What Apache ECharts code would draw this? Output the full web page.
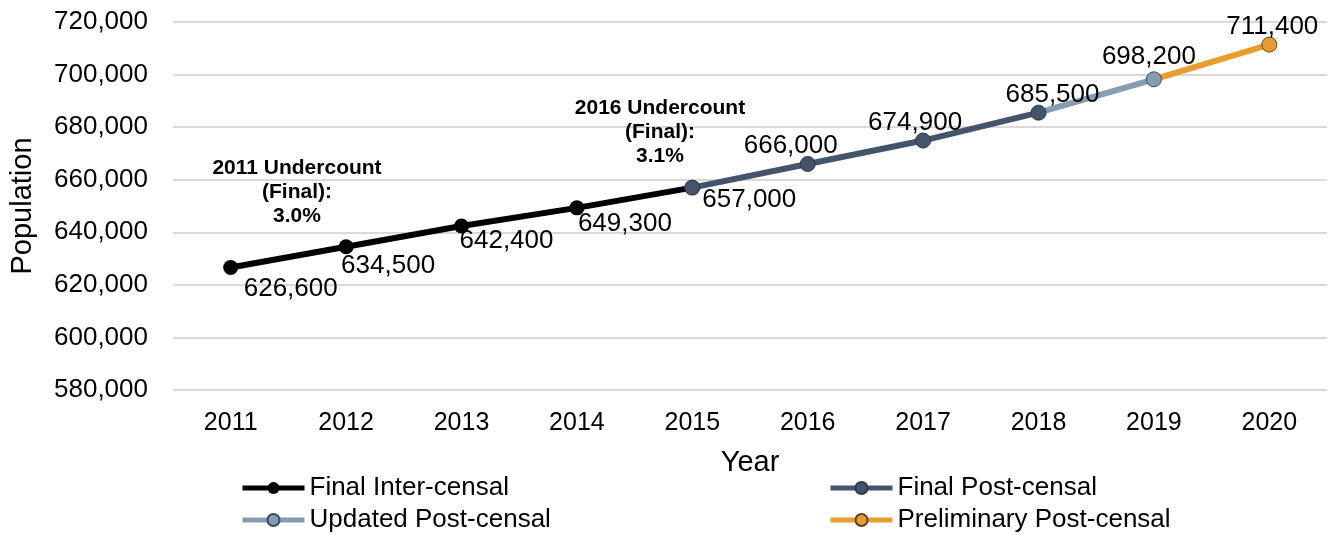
<!DOCTYPE html>
<html>
<head>
<meta charset="utf-8">
<script src="https://cdn.jsdelivr.net/npm/echarts@6/dist/echarts.min.js"></script>
<style>
  html, body { margin: 0; padding: 0; background: #fff; }
  #chart { width: 1334px; height: 535px; }
</style>
</head>
<body>
<div id="chart"></div>
<script>
const years = ['2011', '2012', '2013', '2014', '2015', '2016', '2017', '2018', '2019', '2020']
const finalInterCensal = [626600, 634500, 642400, 649300, 657000, null, null, null, null, null]
const finalPostCensal = [null, null, null, null, 657000, 666000, 674900, 685500, null, null]
const updatedPostCensal = [null, null, null, null, null, null, null, 685500, 698200, null]
const preliminaryPostCensal = [null, null, null, null, null, null, null, null, 698200, 711400]
// which series prints the value label for each year
const labelOwner = [0, 0, 0, 0, 1, 1, 1, 1, 2, 3]
const labelOffsets = [[60, 21], [42, 19], [45, 15], [48, 16], [57, 12], [-17, -18], [-8, -18], [14, -18], [-5, -22], [3, -18]]

const font = "'Liberation Sans', Arial, sans-serif"
const fmt = (v) => Number(v).toLocaleString('en-US')

const seriesDefs = [
  { name: 'Final Inter-censal', values: finalInterCensal, color: '#000000', border: '#000000', hideFirst: false },
  { name: 'Final Post-censal', values: finalPostCensal, color: '#44546a', border: '#2e3a48', hideFirst: false },
  { name: 'Updated Post-censal', values: updatedPostCensal, color: '#849db3', border: '#3f4a56', hideFirst: true },
  { name: 'Preliminary Post-censal', values: preliminaryPostCensal, color: '#e99d2f', border: '#5a4520', hideFirst: true }
]

const buildData = (values, idx, hideFirst) => {
  const first = values.findIndex((v) => v != null)
  return values.map((v, i) => {
    if (v == null) return '-'
    return {
      value: v,
      symbol: hideFirst && i === first ? 'none' : 'circle',
      label: {
        show: labelOwner[i] === idx,
        offset: labelOffsets[i]
      }
    }
  })
}

const legendBase = {
  orient: 'vertical',
  top: 475,
  padding: 0,
  itemGap: 6,
  itemWidth: 62,
  itemHeight: 15,
  selectedMode: false,
  lineStyle: { width: 5 },
  textStyle: { fontSize: 26, color: '#000', fontFamily: font }
}

const chart = echarts.init(document.getElementById('chart'))

chart.setOption({
  animation: false,
  textStyle: { fontFamily: font },
  grid: { left: 168, right: 7, top: 22, bottom: 145 },
  xAxis: {
    type: 'category',
    data: years,
    boundaryGap: true,
    name: 'Year',
    nameLocation: 'middle',
    nameGap: 58,
    nameTextStyle: { fontSize: 29, color: '#000', fontFamily: font },
    axisLine: { show: false },
    axisTick: { show: false },
    axisLabel: { fontSize: 25, color: '#000', margin: 21, fontFamily: font }
  },
  yAxis: {
    type: 'value',
    min: 580000,
    max: 720000,
    interval: 20000,
    name: 'Population',
    nameLocation: 'middle',
    nameGap: 136,
    nameTextStyle: { fontSize: 29, color: '#000', fontFamily: font },
    axisLine: { show: false },
    axisTick: { show: false },
    axisLabel: { fontSize: 26, color: '#000', margin: 25, formatter: fmt, fontFamily: font },
    splitLine: { lineStyle: { color: '#d9d9d9', width: 2 } }
  },
  legend: [
    Object.assign({}, legendBase, { data: ['Final Inter-censal', 'Updated Post-censal'], left: 240 }),
    Object.assign({}, legendBase, { data: ['Final Post-censal', 'Preliminary Post-censal'], left: 828 })
  ],
  graphic: [
    {
      type: 'text',
      x: 297,
      y: 192,
      z: 100,
      style: {
        text: '2011 Undercount\n(Final):\n3.0%',
        align: 'center',
        verticalAlign: 'middle',
        lineHeight: 24,
        font: "bold 21px 'Liberation Sans', Arial, sans-serif",
        fill: '#000'
      }
    },
    {
      type: 'text',
      x: 660,
      y: 132,
      z: 100,
      style: {
        text: '2016 Undercount\n(Final):\n3.1%',
        align: 'center',
        verticalAlign: 'middle',
        lineHeight: 24,
        font: "bold 21px 'Liberation Sans', Arial, sans-serif",
        fill: '#000'
      }
    }
  ],
  series: seriesDefs.map((s, idx) => ({
    name: s.name,
    type: 'line',
    data: buildData(s.values, idx, s.hideFirst),
    symbol: 'circle',
    symbolSize: 15,
    showAllSymbol: true,
    connectNulls: false,
    lineStyle: { color: s.color, width: 6 },
    itemStyle: { color: s.color, borderColor: s.border, borderWidth: idx === 0 ? 0 : 1, opacity: 1 },
    emphasis: { disabled: true },
    label: {
      position: 'inside',
      color: '#000',
      fontSize: 26,
      fontFamily: font,
      formatter: (p) => fmt(p.value)
    }
  }))
})
</script>
</body>
</html>
